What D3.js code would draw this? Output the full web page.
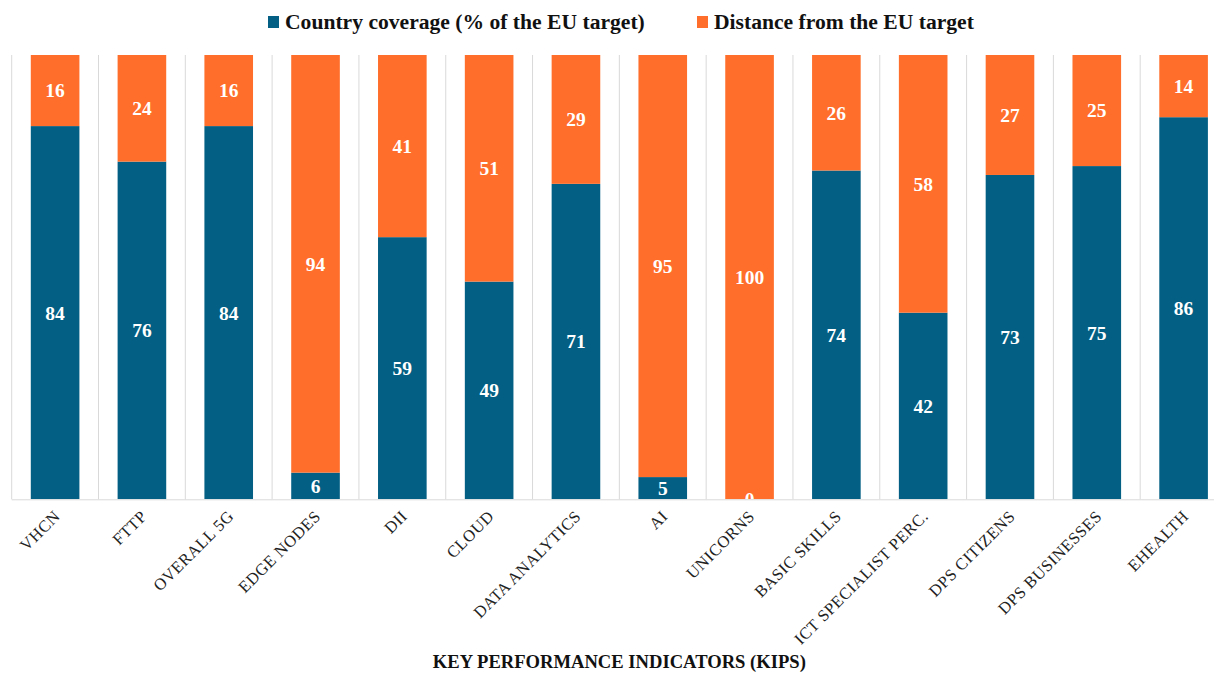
<!DOCTYPE html>
<html>
<head>
<meta charset="utf-8">
<script src="https://cdn.jsdelivr.net/npm/d3@7"></script>
<style>
  html, body { margin: 0; padding: 0; background: #fff; }
  svg { display: block; font-family: "Liberation Serif", "Times New Roman", serif; }
</style>
</head>
<body>
<svg id="chart" width="1214" height="673"></svg>
<script>
// KPI categories and the two stacked series (percent of the EU target)
const categories = ["VHCN", "FTTP", "OVERALL 5G", "EDGE NODES", "DII", "CLOUD", "DATA ANALYTICS",
  "AI", "UNICORNS", "BASIC SKILLS", "ICT SPECIALIST PERC.", "DPS CITIZENS", "DPS BUSINESSES", "EHEALTH"];
const coverage = [84, 76, 84, 6, 59, 49, 71, 5, 0, 74, 42, 73, 75, 86];
const distance = [16, 24, 16, 94, 41, 51, 29, 95, 100, 26, 58, 27, 25, 14];
const seriesNames = ["Country coverage (% of the EU target)", "Distance from the EU target"];
const colors = ["#035F84", "#FF6E2A"];

const svg = d3.select("#chart");
const plot = { left: 11.7, right: 1227, top: 55, bottom: 499.3 };

const x = d3.scaleBand().domain(categories).range([plot.left, plot.right]).paddingInner(0.44).paddingOuter(0.22);
const band = d3.scaleBand().domain(categories).range([plot.left, plot.right]);
const y = d3.scaleLinear().domain([0, 100]).range([plot.bottom, plot.top]);

const rows = categories.map((c, i) => ({ cat: c, coverage: coverage[i], distance: distance[i] }));
const stacked = d3.stack().keys(["coverage", "distance"])(rows);

svg.append("defs").append("clipPath").attr("id", "plotClip")
  .append("rect").attr("x", 0).attr("y", plot.top).attr("width", 1214).attr("height", plot.bottom - plot.top);

// vertical separators between categories
const grid = svg.append("g").attr("stroke", "#d9d9d9").attr("stroke-width", 1);
grid.selectAll("line").data(categories.concat(["__end"])).join("line")
  .attr("x1", (d, i) => plot.left + i * band.bandwidth())
  .attr("x2", (d, i) => plot.left + i * band.bandwidth())
  .attr("y1", plot.top).attr("y2", plot.bottom);

// stacked bars
const layers = svg.append("g").attr("clip-path", "url(#plotClip)");
stacked.forEach((layer, li) => {
  layers.append("g").attr("fill", colors[li])
    .selectAll("rect").data(layer).join("rect")
    .attr("x", d => x(d.data.cat))
    .attr("width", x.bandwidth())
    .attr("y", d => y(d[1]))
    .attr("height", d => y(d[0]) - y(d[1]));
});

// value labels, drawn above every bar segment
stacked.forEach(layer => {
  layers.append("g").selectAll("text").data(layer).join("text")
    .attr("x", d => x(d.data.cat) + x.bandwidth() / 2)
    .attr("y", d => (y(d[0]) + y(d[1])) / 2)
    .attr("dy", "0.35em")
    .attr("text-anchor", "middle")
    .attr("fill", "#fff")
    .attr("font-weight", "bold")
    .attr("font-size", 19.5)
    .text(d => String(d[1] - d[0]));
});

// x axis baseline
svg.append("line").attr("x1", plot.left).attr("x2", plot.right)
  .attr("y1", plot.bottom + 0.5).attr("y2", plot.bottom + 0.5)
  .attr("stroke", "#d9d9d9").attr("stroke-width", 1);

// rotated category labels
const xAxis = d3.axisBottom(x).tickSize(0).tickPadding(0);
const ax = svg.append("g").attr("transform", `translate(0,${plot.bottom})`).call(xAxis);
ax.select(".domain").remove();
ax.selectAll("text")
  .attr("font-family", "Liberation Serif, serif")
  .attr("font-size", 16.5)
  .attr("letter-spacing", 0.5)
  .attr("fill", "#222")
  .attr("text-anchor", "end")
  .attr("dy", 0)
  .attr("transform", "translate(6,18) rotate(-45)");

// axis title
svg.append("text")
  .attr("x", (plot.left + plot.right) / 2).attr("y", 668)
  .attr("text-anchor", "middle").attr("font-weight", "bold").attr("font-size", 18.6)
  .attr("fill", "#111")
  .text("KEY PERFORMANCE INDICATORS (KIPS)");

// legend
const legend = svg.append("g").attr("font-weight", "bold").attr("font-size", 21.6).attr("fill", "#111");
const legendX = [268, 697];
seriesNames.forEach((name, i) => {
  legend.append("rect").attr("x", legendX[i]).attr("y", 16).attr("width", 11).attr("height", 12).attr("fill", colors[i]);
  legend.append("text").attr("x", legendX[i] + 17).attr("y", 29).text(name);
});
</script>
</body>
</html>
